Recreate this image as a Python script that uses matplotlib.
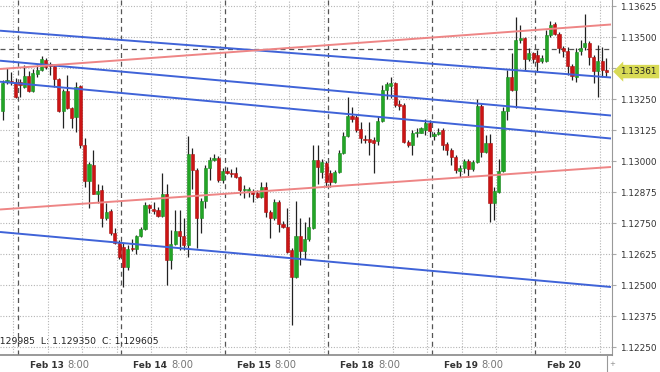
import numpy as np
import matplotlib.pyplot as plt

# hourly EUR/USD candles, Feb 12 20:00 .. Feb 20 16:00
opens = [1.13202, 1.13319, 1.13325, 1.13320, 1.13320, 1.13300, 1.13343, 1.13282, 1.13351, 1.13369,
         1.13407, 1.13391, 1.13383, 1.13330, 1.13202, 1.13282, 1.13213, 1.13179, 1.13302, 1.13065,
         1.12921, 1.12984, 1.12870, 1.12883, 1.12770, 1.12799, 1.12710, 1.12671, 1.12655, 1.12574,
         1.12650, 1.12648, 1.12698, 1.12726, 1.12823, 1.12807, 1.12803, 1.12780, 1.12867, 1.12601,
         1.12666, 1.12718, 1.12698, 1.12662, 1.13031, 1.12964, 1.12770, 1.12841, 1.12971, 1.13004,
         1.13015, 1.12924, 1.12961, 1.12954, 1.12953, 1.12935, 1.12883, 1.12879, 1.12877, 1.12874,
         1.12856, 1.12897, 1.12796, 1.12770, 1.12836, 1.12749, 1.12736, 1.12642, 1.12534, 1.12698,
         1.12638, 1.12685, 1.12731, 1.13004, 1.12957, 1.12994, 1.12951, 1.12917, 1.12957, 1.13034,
         1.13101, 1.13182, 1.13179, 1.13128, 1.13089, 1.13088, 1.13085, 1.13081, 1.13162, 1.13286,
         1.13302, 1.13314, 1.13230, 1.13226, 1.13078, 1.13065, 1.13112, 1.13114, 1.13125, 1.13152,
         1.13101, 1.13109, 1.13125, 1.13069, 1.13045, 1.13018, 1.12961, 1.12971, 1.13002, 1.12967,
         1.12998, 1.13222, 1.13038, 1.13074, 1.12833, 1.12877, 1.12961, 1.13203, 1.13340, 1.13286,
         1.13488, 1.13495, 1.13410, 1.13434, 1.13427, 1.13404, 1.13404, 1.13508, 1.13552, 1.13512,
         1.13454, 1.13445, 1.13383, 1.13340, 1.13444, 1.13458, 1.13476, 1.13421, 1.13363, 1.13403,
         1.13369]
highs = [1.13327, 1.13375, 1.13359, 1.13335, 1.13331, 1.13387, 1.13363, 1.13371, 1.13387, 1.13425,
         1.13415, 1.13399, 1.13391, 1.13335, 1.13289, 1.13349, 1.13218, 1.13319, 1.13306, 1.13095,
         1.12998, 1.13045, 1.12910, 1.12904, 1.12833, 1.12807, 1.12730, 1.12682, 1.12669, 1.12662,
         1.12685, 1.12702, 1.12735, 1.12836, 1.12829, 1.12836, 1.12816, 1.12951, 1.12910, 1.12722,
         1.12803, 1.12803, 1.12770, 1.13102, 1.13052, 1.12972, 1.12852, 1.12985, 1.13018, 1.13029,
         1.13023, 1.12971, 1.12975, 1.12967, 1.12975, 1.12940, 1.12904, 1.12897, 1.12887, 1.12883,
         1.12917, 1.12917, 1.12803, 1.12846, 1.12843, 1.12758, 1.12810, 1.12649, 1.12840, 1.12770,
         1.12756, 1.12776, 1.13065, 1.13065, 1.13011, 1.13001, 1.12964, 1.12964, 1.13045, 1.13119,
         1.13257, 1.13219, 1.13186, 1.13159, 1.13106, 1.13159, 1.13099, 1.13182, 1.13307, 1.13320,
         1.13340, 1.13319, 1.13246, 1.13233, 1.13085, 1.13125, 1.13132, 1.13138, 1.13172, 1.13166,
         1.13119, 1.13132, 1.13132, 1.13078, 1.13052, 1.13025, 1.12984, 1.13011, 1.13011, 1.13004,
         1.13249, 1.13230, 1.13106, 1.13109, 1.12897, 1.13011, 1.13219, 1.13367, 1.13434, 1.13582,
         1.13548, 1.13501, 1.13454, 1.13441, 1.13448, 1.13427, 1.13528, 1.13566, 1.13562, 1.13520,
         1.13464, 1.13461, 1.13391, 1.13456, 1.13488, 1.13593, 1.13484, 1.13427, 1.13468, 1.13461,
         1.13415]
lows = [1.13166, 1.13311, 1.13306, 1.13256, 1.13260, 1.13294, 1.13278, 1.13278, 1.13339, 1.13363,
        1.13373, 1.13347, 1.13300, 1.13198, 1.13133, 1.13210, 1.13132, 1.13117, 1.13053, 1.12898,
        1.12811, 1.12867, 1.12830, 1.12736, 1.12763, 1.12703, 1.12668, 1.12608, 1.12494, 1.12561,
        1.12640, 1.12625, 1.12694, 1.12722, 1.12791, 1.12789, 1.12777, 1.12777, 1.12501, 1.12568,
        1.12662, 1.12642, 1.12642, 1.12615, 1.12890, 1.12649, 1.12710, 1.12810, 1.12924, 1.13000,
        1.12917, 1.12913, 1.12948, 1.12937, 1.12931, 1.12864, 1.12850, 1.12856, 1.12836, 1.12850,
        1.12853, 1.12776, 1.12689, 1.12763, 1.12716, 1.12730, 1.12630, 1.12339, 1.12528, 1.12582,
        1.12608, 1.12679, 1.12727, 1.12910, 1.12931, 1.12897, 1.12897, 1.12912, 1.12951, 1.13029,
        1.13097, 1.13159, 1.13119, 1.13072, 1.13072, 1.13025, 1.12951, 1.13065, 1.13158, 1.13249,
        1.13253, 1.13219, 1.13206, 1.13072, 1.13058, 1.13025, 1.13099, 1.13112, 1.13106, 1.13099,
        1.13085, 1.13105, 1.13045, 1.13025, 1.12984, 1.12951, 1.12937, 1.12951, 1.12937, 1.12960,
        1.12993, 1.13018, 1.13033, 1.12756, 1.12763, 1.12872, 1.12957, 1.13166, 1.13282, 1.13213,
        1.13475, 1.13367, 1.13403, 1.13394, 1.13360, 1.13394, 1.13400, 1.13501, 1.13508, 1.13434,
        1.13421, 1.13347, 1.13327, 1.13320, 1.13427, 1.13448, 1.13387, 1.13315, 1.13258, 1.13339,
        1.13339]
closes = [1.13313, 1.13327, 1.13321, 1.13260, 1.13306, 1.13343, 1.13282, 1.13355, 1.13367, 1.13413,
          1.13378, 1.13383, 1.13330, 1.13202, 1.13282, 1.13214, 1.13176, 1.13300, 1.13065, 1.12921,
          1.12987, 1.12870, 1.12881, 1.12770, 1.12797, 1.12710, 1.12671, 1.12613, 1.12574, 1.12648,
          1.12646, 1.12698, 1.12726, 1.12823, 1.12810, 1.12799, 1.12780, 1.12867, 1.12601, 1.12666,
          1.12718, 1.12698, 1.12662, 1.13031, 1.12964, 1.12770, 1.12841, 1.12971, 1.13004, 1.13015,
          1.12924, 1.12961, 1.12953, 1.12948, 1.12935, 1.12883, 1.12890, 1.12887, 1.12867, 1.12856,
          1.12897, 1.12796, 1.12770, 1.12836, 1.12749, 1.12736, 1.12635, 1.12534, 1.12698, 1.12638,
          1.12685, 1.12736, 1.13004, 1.12977, 1.12998, 1.12917, 1.12917, 1.12957, 1.13034, 1.13101,
          1.13182, 1.13169, 1.13125, 1.13092, 1.13087, 1.13078, 1.13074, 1.13162, 1.13286, 1.13310,
          1.13313, 1.13226, 1.13222, 1.13078, 1.13065, 1.13114, 1.13119, 1.13132, 1.13155, 1.13122,
          1.13109, 1.13119, 1.13065, 1.13045, 1.13018, 1.12964, 1.12971, 1.13002, 1.12967, 1.12998,
          1.13222, 1.13038, 1.13074, 1.12833, 1.12881, 1.12961, 1.13203, 1.13340, 1.13286, 1.13488,
          1.13495, 1.13410, 1.13434, 1.13410, 1.13400, 1.13414, 1.13508, 1.13548, 1.13512, 1.13454,
          1.13445, 1.13383, 1.13343, 1.13441, 1.13456, 1.13477, 1.13421, 1.13363, 1.13403, 1.13369,
          1.13361]

day_labels = ["Feb 13", "Feb 14", "Feb 15", "Feb 18", "Feb 19", "Feb 20"]
time_labels = ["8:00", "8:00", "8:00", "8:00", "8:00", ""]

# trend lines: price at left edge, price at right edge
blue_lines = [(1.135256, 1.133372), (1.134048, 1.131841), (1.133202, 1.130915), (1.127151, 1.124936)]
red_lines = [(1.133714, 1.135506), (1.128057, 1.129768)]
dashed_level = 1.13450
last_price = 1.13361
status_text = "H: 1.129985  L: 1.129350  C: 1.129605"

price_ticks = np.arange(1.12250, 1.13626, 0.00125)

W, H = 660, 372
fig = plt.figure(figsize=(W / 100, H / 100), dpi=100)
ax = fig.add_axes([0, 17 / H, 611.5 / W, 355 / H])

n = len(opens)
idx = np.arange(n)
o = np.array(opens); c = np.array(closes)
up = c >= o

ax.set_xlim(-0.63, 141.17)
ax.set_ylim(1.122198, 1.136492)

# grid
for g in np.arange(2.5, 142, 8):
    ax.axvline(g, color="#b4b4b4", lw=0.8, ls=(0, (1, 1.5)), zorder=0)
for p in price_ticks:
    ax.axhline(p, color="#b4b4b4", lw=0.8, ls=(0, (1, 1.5)), zorder=0)
# day separators
for d in np.arange(3.5, 142, 24):
    ax.axvline(d, color="#555555", lw=0.9, ls=(0, (4, 3)), zorder=1)
ax.axhline(dashed_level, color="#555555", lw=0.9, ls=(0, (4, 3)), zorder=1)

# candles
ax.vlines(idx, lows, highs, color="#222222", lw=0.9, zorder=2)
body_lo = np.minimum(o, c)
body_h = np.maximum(np.abs(c - o), 0.000012)
ax.bar(idx[up], body_h[up], bottom=body_lo[up], width=0.72, color="#22a526",
       edgecolor="#1c8c20", lw=0.4, zorder=3)
ax.bar(idx[~up], body_h[~up], bottom=body_lo[~up], width=0.72, color="#cc1414",
       edgecolor="#a81010", lw=0.4, zorder=3)

xl = [-0.63, 141.05]
for a, b in blue_lines:
    ax.plot(xl, [a, b], color="#3f63d8", lw=1.4, zorder=4, solid_capstyle="butt")
for a, b in red_lines:
    ax.plot(xl, [a, b], color="#ee8585", lw=1.4, zorder=4, solid_capstyle="butt")

# axes styling
for s in ["left", "top"]:
    ax.spines[s].set_visible(False)
ax.spines["right"].set_color("#999999")
ax.spines["bottom"].set_color("#888888")
ax.spines["bottom"].set_linewidth(1.2)
ax.yaxis.tick_right()
ax.set_yticks(price_ticks)
ax.set_yticklabels(["%.5f" % p for p in price_ticks])
ax.tick_params(axis="y", length=3, color="#aaaaaa", pad=3, labelsize=6.4, labelcolor="#333333")
ax.set_xticks([])

# date labels
for i, (dl, tl) in enumerate(zip(day_labels, time_labels)):
    xk = 3.5 + 24 * i + 12 / 4.3125
    ax.annotate(dl, (xk, 0), xycoords=("data", "axes fraction"), xytext=(0, -10),
                textcoords="offset pixels", ha="left", va="center", fontsize=6.5,
                fontweight="bold", color="#333333", annotation_clip=False)
    if tl:
        ax.annotate(tl, (xk, 0), xycoords=("data", "axes fraction"), xytext=(38, -10),
                    textcoords="offset pixels", ha="left", va="center", fontsize=7.2,
                    color="#777777", annotation_clip=False)

# status line, cut at the left edge like the original
fig.text(159 / W, 1 - 341 / H, status_text, ha="right", va="center", fontsize=6.7, color="#222222")

# last price tag
ax.annotate("%.5f" % last_price, (1, last_price), xycoords=("axes fraction", "data"),
            xytext=(9, 0), textcoords="offset pixels", ha="left", va="center",
            fontsize=6.4, color="#222222", annotation_clip=False, zorder=10,
            bbox=dict(boxstyle="larrow,pad=0.25", fc="#d8da55", ec="none"))

fig.add_artist(plt.Line2D([607 / W, 607 / W], [0, 17 / H], color="#999999", lw=0.8))
fig.text(612 / W, 1 - 364 / H, "+", ha="center", va="center", fontsize=5, color="#888888")

fig.savefig("out.png", dpi=100, facecolor="white")
